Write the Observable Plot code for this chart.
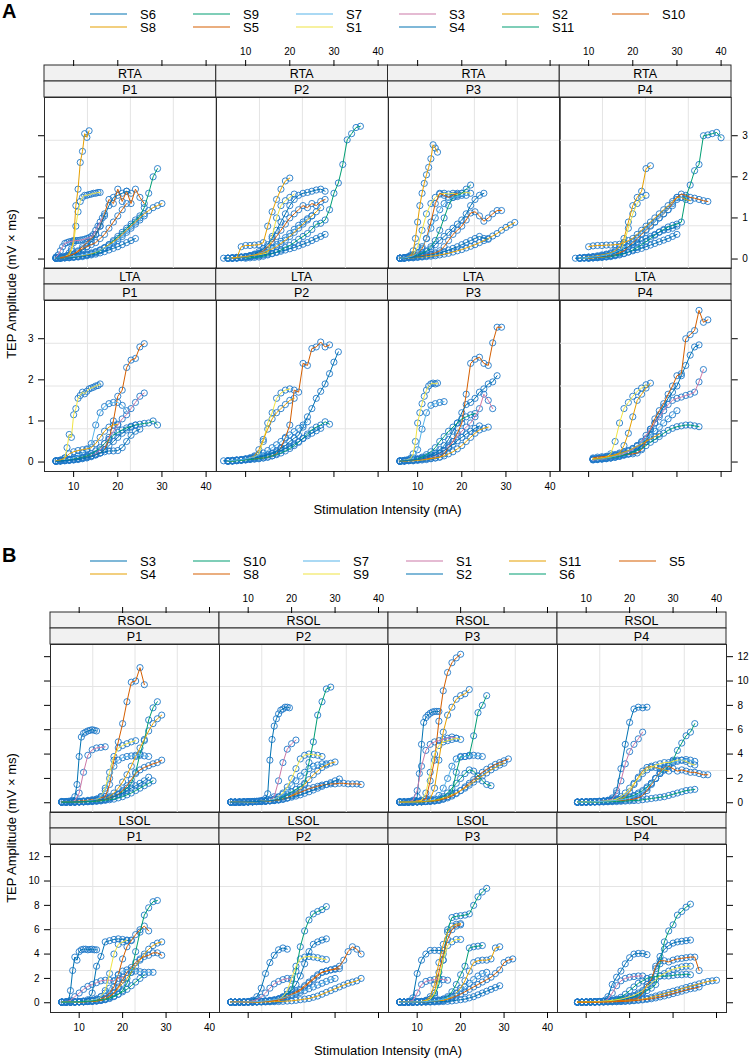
<!DOCTYPE html>
<html><head><meta charset="utf-8">
<script src="https://cdn.jsdelivr.net/npm/d3@7"></script>
<script src="https://cdn.jsdelivr.net/npm/@observablehq/plot@0.6"></script>
<style>
body{margin:0;background:#fff;}
#root{position:relative;width:750px;height:1058px;overflow:hidden;font-family:"Liberation Sans",Arial,sans-serif;color:#000;background:#fff;}
</style></head><body><div id="root"></div>
<script>
const PALETTE = ["#0072B2","#E69F00","#009E73","#D55E00","#56B4E9","#F0E442","#CC79A7"];
const LEGEND_A = ["S6","S8","S9","S5","S7","S1","S3","S4","S2","S11","S10"];
const LEGEND_B = ["S3","S4","S10","S8","S7","S9","S1","S2","S11","S6","S5"];
const PHASES = ["P1","P2","P3","P4"];
const MUSCLES_A = ["RTA","LTA"];
const MUSCLES_B = ["RSOL","LSOL"];
const X_TICKS = [10,20,30,40];
const Y_TICKS_A = [0,1,2,3];
const Y_TICKS_B = [0,2,4,6,8,10,12];
const X_TITLE = "Stimulation Intensity (mA)";
const Y_TITLE = "TEP Amplitude (mV \u00d7 ms)";

// each series: [subject, first intensity (mA), intensity step (mA), amplitudes]
const A_RTA_P1 = [
 ["S8",6,0.5,[0.02,0.02,0.03,0.03,0.05,0.08,0.15,0.25,0.45,1.3,1.7,2.35,2.62,3.05,2.96,3.12]],
 ["S1",6,0.5,[0.03,0.03,0.04,0.05,0.06,0.08,0.1,0.2,0.4,0.8,1.15,1.4,1.5,1.55,1.55,1.57,1.58,1.6,1.6,1.62,1.62]],
 ["S5",6,1,[0.02,0.03,0.05,0.08,0.12,0.2,0.3,0.4,0.5,0.6,0.8,1.1,1.45,1.35,1.7,1.4,1.65,1.35,1.7,1.5,1.35]],
 ["S9",6,1,[0.02,0.02,0.03,0.04,0.05,0.06,0.08,0.1,0.12,0.15,0.2,0.27,0.35,0.45,0.55,0.65,0.75,0.85,0.95,1.05,1.25,1.6,2.0,2.2]],
 ["S2",6,1,[0.02,0.02,0.03,0.04,0.05,0.06,0.08,0.1,0.13,0.17,0.22,0.28,0.35,0.42,0.5,0.6,0.7,0.8,0.9,1.0,1.1,1.18,1.25,1.3,1.35]],
 ["S6",6,1,[0.03,0.04,0.05,0.07,0.1,0.15,0.22,0.3,0.42,0.6,0.8,1.05,1.3,1.5,1.55,1.6,1.65,1.6]],
 ["S7",6,1,[0.02,0.03,0.04,0.05,0.06,0.08,0.1,0.12,0.15,0.18,0.22,0.27,0.32,0.38,0.45,0.55,0.65,0.75,0.85,0.95,1.05]],
 ["S3",6,0.5,[0.05,0.1,0.2,0.3,0.38,0.4,0.42,0.43,0.44,0.45,0.45,0.46,0.47,0.48,0.5,0.52,0.55,0.6,0.7,0.8,0.9,1.0]],
 ["S4",6,1,[0.02,0.02,0.03,0.03,0.04,0.05,0.06,0.08,0.1,0.12,0.15,0.18,0.22,0.26,0.3,0.35,0.4,0.45,0.5]],
 ["S10",7,1,[0.03,0.05,0.08,0.12,0.18,0.25,0.3,0.35,0.4,0.5,0.6,0.75,0.9,1.05,1.2,1.35]]
];
const A_RTA_P2 = [
 ["S9",10,1,[0.02,0.03,0.04,0.05,0.07,0.1,0.13,0.17,0.22,0.28,0.33,0.4,0.48,0.55,0.62,0.72,0.85,0.87,0.95,1.2,1.6,1.85,2.3,2.9,3.05,3.2,3.23]],
 ["S8",6,1,[0.02,0.02,0.03,0.3,0.33,0.33,0.34,0.35,0.4,0.8,1.15,1.45,1.7,1.9,1.97]],
 ["S1",6,1,[0.02,0.02,0.03,0.04,0.05,0.06,0.08,0.1,0.12,0.15,0.55,1.0,1.3,1.42,1.5,1.58]],
 ["S5",6,1,[0.02,0.02,0.03,0.04,0.05,0.07,0.1,0.14,0.2,0.3,0.4,0.55,0.7,0.85,1.0,1.1,1.2,1.3,1.25,1.35,1.3,1.4,1.45]],
 ["S6",8,1,[0.02,0.03,0.05,0.08,0.12,0.18,0.25,0.35,0.5,0.7,0.9,1.1,1.3,1.45,1.55,1.6,1.62,1.65,1.68,1.7,1.65]],
 ["S4",5,1,[0.02,0.02,0.03,0.03,0.04,0.05,0.06,0.07,0.08,0.1,0.12,0.14,0.16,0.19,0.22,0.25,0.28,0.32,0.36,0.4,0.45,0.5,0.55,0.6]],
 ["S7",6,1,[0.02,0.03,0.04,0.05,0.06,0.08,0.1,0.13,0.17,0.22,0.28,0.35,0.43,0.52,0.62,0.72,0.82,0.9,0.98,1.05]],
 ["S2",7,1,[0.03,0.04,0.05,0.06,0.08,0.1,0.12,0.15,0.2,0.25,0.3,0.38,0.46,0.55,0.65,0.75,0.85,0.95,1.05,1.15,1.25]]
];
const A_RTA_P3 = [
 ["S8",6,0.5,[0.02,0.02,0.03,0.04,0.06,0.1,0.2,0.5,0.9,1.3,1.6,1.84,2.05,2.23,2.44,2.78,2.7,2.6]],
 ["S1",6,1,[0.02,0.03,0.05,0.1,0.3,0.7,1.1,1.35,1.5,1.58,1.6,1.58,1.6,1.57,1.6,1.62,1.6]],
 ["S11",6,1,[0.02,0.03,0.04,0.06,0.1,0.15,0.2,0.3,0.45,0.7,1.0,1.3,1.5,1.55,1.6,1.7,1.8]],
 ["S10",6,1,[0.02,0.03,0.05,0.1,0.15,0.25,0.5,0.9,1.35,1.6,1.55,1.5,1.55,1.6]],
 ["S5",6,1,[0.02,0.03,0.04,0.05,0.06,0.08,0.1,0.12,0.15,0.2,0.3,0.45,0.6,0.7,0.8,0.95,1.12,1.15,1.05,0.92,1.0,1.1,1.18,1.18]],
 ["S2",6,1,[0.02,0.02,0.03,0.03,0.04,0.05,0.06,0.07,0.08,0.1,0.12,0.14,0.17,0.2,0.23,0.27,0.31,0.35,0.4,0.45,0.5,0.56,0.62,0.7,0.77,0.83,0.89]],
 ["S6",6,1,[0.02,0.02,0.03,0.04,0.05,0.06,0.08,0.1,0.12,0.15,0.18,0.22,0.26,0.3,0.35,0.4,0.45,0.5,0.55,0.5,0.48]],
 ["S4",6,1,[0.02,0.03,0.04,0.06,0.08,0.12,0.18,0.25,0.35,0.45,0.55,0.65,0.75,0.85,0.95,1.1,1.3,1.45,1.55,1.6]],
 ["S7",6,1,[0.02,0.03,0.05,0.08,0.15,0.3,0.5,0.75,1.0,1.2,1.35,1.45,1.5,1.52,1.55,1.55]]
];
const A_RTA_P4 = [
 ["S11",10,1,[0.02,0.03,0.03,0.04,0.05,0.06,0.08,0.1,0.13,0.17,0.22,0.28,0.35,0.42,0.5,0.58,0.66,0.72,0.78,0.82,0.85,0.9,1.5,1.8,2.15,2.3,3.0,3.02,3.05,3.08,2.95]],
 ["S8",8,1,[0.03,0.04,0.05,0.06,0.08,0.1,0.12,0.15,0.2,0.3,0.5,0.9,1.3,1.5,1.65,2.2,2.27]],
 ["S1",8,1,[0.02,0.02,0.03,0.03,0.04,0.05,0.06,0.08,0.1,0.15,0.4,0.75,1.1,1.35,1.5,1.55]],
 ["S2",10,1,[0.3,0.32,0.33,0.33,0.34,0.34,0.35,0.36,0.4,0.45,0.5,0.6,0.7,0.8,0.9,1.0,1.1,1.2,1.3,1.4,1.5,1.5,1.45,1.42]],
 ["S10",10,1,[0.02,0.03,0.04,0.05,0.06,0.08,0.1,0.15,0.2,0.3,0.4,0.5,0.6,0.7,0.8,0.9,1.0,1.1,1.2,1.35,1.5,1.58,1.55,1.5,1.48,1.45,1.42,1.4]],
 ["S6",8,1,[0.02,0.03,0.04,0.05,0.06,0.08,0.1,0.12,0.15,0.2,0.25,0.3,0.35,0.4,0.45,0.5,0.55,0.6,0.65,0.7,0.72,0.75,0.8]],
 ["S4",7,1,[0.02,0.02,0.03,0.03,0.04,0.05,0.06,0.07,0.08,0.1,0.12,0.14,0.17,0.2,0.23,0.26,0.3,0.34,0.38,0.42,0.46,0.5,0.55,0.6]],
 ["S7",8,1,[0.02,0.03,0.04,0.05,0.06,0.08,0.1,0.13,0.17,0.22,0.28,0.35,0.43,0.52,0.62,0.72,0.82,0.9,1.0,1.1,1.2,1.3,1.45,1.5]]
];
const A_LTA_P1 = [
 ["S1",6,0.5,[0.03,0.03,0.04,0.05,0.1,0.35,0.67,0.6,1.15,1.3,1.55,1.62,1.7,1.66,1.72,1.78,1.8,1.82,1.85,1.86,1.9]],
 ["S5",6,1,[0.02,0.03,0.04,0.05,0.07,0.09,0.11,0.13,0.15,0.18,0.22,0.3,0.55,1.0,1.6,1.75,2.3,2.48,2.52,2.8,2.88]],
 ["S7",6,1,[0.03,0.04,0.05,0.07,0.1,0.15,0.22,0.3,0.45,0.9,1.2,1.35,1.42,1.45,1.45,1.38,1.25]],
 ["S3",6,1,[0.02,0.03,0.04,0.05,0.06,0.08,0.1,0.12,0.15,0.2,0.3,0.45,0.6,0.75,0.9,1.05,1.15,1.3,1.45,1.6,1.68]],
 ["S9",6,1,[0.02,0.03,0.04,0.05,0.07,0.09,0.12,0.15,0.2,0.27,0.35,0.45,0.55,0.65,0.72,0.78,0.83,0.87,0.9,0.92,0.94,0.95,1.0,0.9]],
 ["S4",6,1,[0.02,0.03,0.04,0.05,0.06,0.08,0.1,0.12,0.15,0.18,0.22,0.25,0.27,0.27,0.28,0.35,0.5,0.65,0.75,0.8]],
 ["S8",6,1,[0.03,0.05,0.1,0.2,0.25,0.28,0.3,0.32,0.35,0.45,0.6,0.75,0.85,0.9,0.92]],
 ["S6",6,1,[0.02,0.02,0.03,0.04,0.05,0.06,0.08,0.1,0.13,0.17,0.22,0.3,0.4,0.5,0.6,0.7,0.78,0.85,0.9]]
];
const A_LTA_P2 = [
 ["S5",6,1,[0.03,0.03,0.04,0.05,0.06,0.07,0.08,0.09,0.1,0.12,0.15,0.2,0.35,0.6,0.9,1.75,1.7,2.4,2.35,2.76,2.8,2.92,2.8,2.85]],
 ["S6",6,1,[0.02,0.03,0.04,0.05,0.06,0.08,0.1,0.12,0.15,0.18,0.22,0.27,0.33,0.4,0.5,0.58,0.65,0.85,1.1,1.3,1.55,1.72,1.9,2.15,2.43,2.68]],
 ["S1",6,1,[0.03,0.03,0.04,0.05,0.06,0.08,0.12,0.2,0.5,0.95,1.2,1.55,1.68,1.75,1.78]],
 ["S8",6,1,[0.02,0.03,0.04,0.05,0.07,0.1,0.15,0.3,0.55,0.8,1.05,1.2,1.3,1.4,1.5,1.55]],
 ["S9",6,1,[0.02,0.02,0.03,0.04,0.05,0.06,0.07,0.08,0.1,0.12,0.15,0.18,0.22,0.27,0.33,0.4,0.48,0.58,0.68,0.78,0.85,0.9,0.98,0.92]],
 ["S4",5,1,[0.03,0.03,0.04,0.05,0.06,0.07,0.08,0.1,0.12,0.14,0.17,0.2,0.24,0.28,0.33,0.38,0.44,0.5,0.57,0.64,0.7,0.76,0.82]],
 ["S7",6,1,[0.03,0.04,0.05,0.06,0.08,0.1,0.13,0.17,0.22,0.28,0.35,0.42,0.5,0.58,0.66,0.74,0.82,0.9,0.98]]
];
const A_LTA_P3 = [
 ["S5",6,1,[0.02,0.03,0.04,0.05,0.06,0.07,0.08,0.09,0.1,0.12,0.2,0.35,0.5,0.7,0.95,1.65,2.4,2.5,2.55,2.4,2.35,2.9,3.28,3.28]],
 ["S1",6,0.5,[0.03,0.03,0.04,0.05,0.06,0.1,0.2,0.5,0.95,1.2,1.42,1.6,1.75,1.85,1.9,1.92,1.9,1.92]],
 ["S7",6,1,[0.03,0.04,0.05,0.1,0.3,0.8,1.2,1.38,1.42,1.45,1.47]],
 ["S6",6,1,[0.02,0.03,0.04,0.05,0.07,0.1,0.13,0.17,0.22,0.3,0.4,0.55,0.75,0.95,1.2,1.4,1.45,1.55,1.7,1.78,1.9,1.95,2.1]],
 ["S3",6,1,[0.02,0.03,0.04,0.05,0.06,0.08,0.1,0.12,0.15,0.2,0.28,0.38,0.5,0.62,0.75,0.85,0.95,1.1,1.3,1.65,1.5,1.3]],
 ["S9",6,1,[0.02,0.03,0.04,0.05,0.08,0.12,0.18,0.25,0.35,0.5,0.62,0.75,0.85,0.95,1.05,1.1,1.15,1.18]],
 ["S2",6,1,[0.02,0.02,0.03,0.03,0.04,0.05,0.06,0.08,0.1,0.12,0.15,0.2,0.25,0.32,0.4,0.5,0.6,0.7,0.78,0.82,0.85]],
 ["S4",6,1,[0.02,0.03,0.04,0.05,0.06,0.08,0.1,0.13,0.17,0.22,0.28,0.35,0.43,0.52,0.6,0.68,0.75,0.82,0.88]]
];
const A_LTA_P4 = [
 ["S5",11,1,[0.1,0.12,0.13,0.14,0.15,0.16,0.17,0.18,0.19,0.2,0.22,0.3,0.5,0.8,1.05,1.25,1.42,1.65,1.85,2.1,2.15,3.0,3.1,3.2,3.69,3.4,3.46]],
 ["S1",11,1,[0.08,0.09,0.1,0.12,0.2,0.5,0.95,1.3,1.45,1.6,1.72,1.8,1.88]],
 ["S8",11,1,[0.07,0.08,0.1,0.12,0.15,0.18,0.22,0.4,0.7,1.1,1.5,1.65,1.8,1.92]],
 ["S6",11,1,[0.06,0.07,0.08,0.09,0.1,0.12,0.14,0.17,0.2,0.25,0.3,0.4,0.55,0.75,0.95,1.15,1.35,1.55,1.7,1.85,2.1,2.35,2.6,2.8,2.85]],
 ["S3",11,1,[0.05,0.06,0.07,0.08,0.1,0.12,0.15,0.2,0.25,0.3,0.4,0.5,0.65,0.8,0.95,1.1,1.25,1.4,1.5,1.55,1.58,1.62,1.65,1.7,1.95,2.25]],
 ["S9",11,1,[0.06,0.07,0.08,0.09,0.1,0.12,0.14,0.17,0.2,0.24,0.28,0.33,0.4,0.48,0.55,0.62,0.7,0.77,0.82,0.86,0.88,0.9,0.9,0.88,0.86]],
 ["S7",11,1,[0.06,0.07,0.08,0.1,0.12,0.15,0.18,0.22,0.27,0.33,0.4,0.48,0.57,0.66,0.75,0.85,0.95,1.05,1.15,1.25]],
 ["S2",11,1,[0.07,0.08,0.1,0.12,0.14,0.17,0.2,0.24,0.28,0.33,0.38,0.44,0.5,0.56,0.62,0.68]]
];

const B_RSOL_P1 = [
 ["S8",6,1,[0.1,0.1,0.1,0.12,0.14,0.16,0.2,0.25,0.3,0.4,0.5,1.5,3.5,5.0,6.5,8.3,9.9,10.0,11.1,9.7]],
 ["S3",6,0.5,[0.1,0.1,0.1,0.12,0.15,0.2,0.5,1.5,3.8,5.4,5.7,5.8,5.9,5.95,6.0,5.95,5.9]],
 ["S1",6,1,[0.05,0.08,0.1,0.15,0.8,2.5,3.9,4.35,4.5,4.55,4.6]],
 ["S9",6,1,[0.05,0.05,0.05,0.06,0.08,0.1,0.12,0.15,0.2,0.5,1.2,2.5,3.8,4.5,4.7,4.85,5.0,5.1]],
 ["S10",6,1,[0.05,0.05,0.05,0.06,0.08,0.1,0.12,0.15,0.2,0.25,0.3,0.4,0.5,0.7,0.9,1.2,1.6,2.5,4.0,5.1,6.8,7.8,8.3]],
 ["S4",6,1,[0.05,0.05,0.05,0.06,0.08,0.1,0.12,0.15,0.18,0.22,0.3,0.5,0.8,1.2,1.7,2.3,3.0,3.8,4.5,5.2,5.9,6.5,6.9,7.2]],
 ["S7",6,1,[0.05,0.05,0.05,0.06,0.08,0.1,0.15,0.2,0.3,0.5,1.0,2.0,3.0,3.5,3.7,3.8,3.85,3.9,3.9,3.85,3.8]],
 ["S5",6,1,[0.05,0.05,0.05,0.06,0.07,0.08,0.1,0.12,0.15,0.2,0.25,0.35,0.5,0.7,1.0,1.4,1.9,2.4,2.7,2.9,3.05,3.2,3.3,3.5]],
 ["S2",6,1,[0.05,0.05,0.06,0.07,0.08,0.1,0.12,0.15,0.2,0.25,0.3,0.4,0.5,0.65,0.8,1.0,1.2,1.4,1.6,1.8,2.1]],
 ["S6",6,1,[0.05,0.05,0.05,0.06,0.06,0.07,0.08,0.1,0.12,0.15,0.2,0.25,0.3,0.4,0.5,0.65,0.8,1.0,1.2,1.4,1.6,1.8]]
];
const B_RSOL_P2 = [
 ["S3",6,0.5,[0.05,0.05,0.05,0.05,0.05,0.06,0.06,0.08,0.08,0.1,0.1,0.12,0.12,0.15,0.17,0.2,0.35,0.74,3.5,5.2,6.3,6.9,7.3,7.6,7.7,7.85,7.85,7.8]],
 ["S1",6,1,[0.05,0.05,0.05,0.06,0.07,0.08,0.1,0.12,0.15,0.2,0.5,1.8,3.3,4.4,4.85,5.15]],
 ["S10",6,1,[0.05,0.05,0.05,0.06,0.07,0.08,0.1,0.12,0.15,0.18,0.22,0.3,0.45,0.65,0.9,1.1,1.3,1.6,3.3,5.0,7.2,8.3,9.35,9.5]],
 ["S9",6,1,[0.05,0.05,0.05,0.06,0.07,0.08,0.1,0.12,0.15,0.2,0.3,0.5,0.8,1.3,2.0,2.8,3.6,3.9,4.0,3.95,3.9,3.8]],
 ["S4",6,1,[0.05,0.05,0.05,0.06,0.07,0.08,0.09,0.1,0.12,0.15,0.18,0.22,0.3,0.4,0.6,0.8,1.1,1.5,1.9,2.3,2.6,2.9,3.1,3.25,3.35]],
 ["S8",6,1,[0.05,0.05,0.06,0.07,0.08,0.09,0.1,0.12,0.14,0.16,0.2,0.25,0.3,0.4,0.55,0.7,0.85,1.0,1.15,1.25,1.35,1.45,1.5,1.55,1.55,1.6,1.6,1.55,1.55,1.55,1.5]],
 ["S7",6,1,[0.05,0.05,0.05,0.06,0.07,0.08,0.1,0.12,0.15,0.2,0.3,0.45,0.7,1.0,1.4,1.8,2.2,2.5,2.8,3.0,3.1,3.2,3.2]],
 ["S2",6,1,[0.05,0.05,0.06,0.07,0.08,0.09,0.1,0.12,0.14,0.17,0.2,0.25,0.3,0.38,0.46,0.55,0.65,0.78,0.9,1.05,1.2,1.35,1.5,1.65,1.8,1.95]]
];
const B_RSOL_P3 = [
 ["S8",6,1,[0.1,0.1,0.1,0.12,0.15,0.2,0.3,1.8,3.5,6.7,9.2,10.7,11.5,11.9,12.2]],
 ["S3",6,0.5,[0.05,0.05,0.05,0.06,0.08,0.1,0.12,0.2,0.5,2.4,4.8,6.6,7.0,7.2,7.35,7.45,7.5,7.5,7.5]],
 ["S11",6,1,[0.05,0.05,0.05,0.06,0.07,0.08,0.1,0.3,1.2,3.5,5.8,7.2,7.85,8.5,8.8,8.95,9.3]],
 ["S1",6,1,[0.05,0.05,0.08,0.2,1.0,3.0,4.3,4.8,5.0,5.1,5.2,5.3,5.4,5.3]],
 ["S9",6,1,[0.05,0.05,0.05,0.06,0.1,0.2,0.8,2.5,4.0,4.7,5.0,5.1,5.2,5.3,5.2]],
 ["S10",6,1,[0.05,0.05,0.05,0.06,0.07,0.08,0.1,0.12,0.15,0.2,0.3,0.5,0.8,2.5,3.8,3.8,3.9,5.5,7.4,8.0,8.8]],
 ["S5",6,1,[0.05,0.05,0.05,0.06,0.07,0.08,0.1,0.12,0.15,0.2,0.3,0.4,0.55,0.75,1.0,1.3,1.6,1.9,2.2,2.5,2.75,2.95,3.15,3.3,3.45,3.6]],
 ["S6",6,1,[0.05,0.05,0.05,0.06,0.07,0.08,0.1,0.15,0.2,0.3,0.5,0.8,1.2,1.6,2.0,2.4,2.7,2.6,2.2,1.8,1.5,1.4]],
 ["S7",6,1,[0.05,0.05,0.05,0.06,0.08,0.1,0.15,0.2,0.3,0.6,1.2,2.0,3.0,3.6,3.75,3.8,3.85,3.9,3.85,3.8]],
 ["S4",6,1,[0.05,0.05,0.06,0.07,0.08,0.1,0.12,0.15,0.2,0.28,0.38,0.5,0.65,0.8,1.0,1.2,1.45,1.7,1.95,2.2,2.45,2.7,2.9,3.1,3.25]]
];
const B_RSOL_P4 = [
 ["S3",8,1,[0.05,0.06,0.07,0.08,0.1,0.12,0.15,0.2,0.4,1.0,2.8,4.8,6.6,7.7,7.85,7.8,7.85]],
 ["S1",8,1,[0.05,0.06,0.07,0.08,0.1,0.12,0.15,0.2,0.3,0.8,1.8,3.2,4.2,4.8,5.25,5.8]],
 ["S10",8,1,[0.05,0.06,0.07,0.08,0.09,0.1,0.12,0.15,0.2,0.25,0.3,0.4,0.5,0.6,0.8,1.0,1.3,1.6,2.0,2.4,2.7,3.0,3.5,4.3,4.9,5.5,5.8,6.5]],
 ["S8",8,1,[0.05,0.06,0.07,0.08,0.09,0.1,0.11,0.12,0.14,0.16,0.18,0.2,0.25,0.3,0.4,0.6,1.0,1.5,2.0,2.5,2.9,3.0,2.8,2.6,2.7,2.6,2.5,2.5,2.4,2.3,2.3]],
 ["S4",8,1,[0.05,0.05,0.06,0.07,0.08,0.09,0.1,0.12,0.15,0.2,0.3,0.5,0.9,1.5,2.1,2.6,2.9,3.0,2.9,2.8,2.7,2.6]],
 ["S9",8,1,[0.05,0.05,0.06,0.07,0.08,0.1,0.12,0.15,0.2,0.3,0.5,0.8,1.2,1.6,2.0,2.4,2.7,2.9,3.1,3.2,3.3,3.3,3.4,3.5,3.5,3.4,3.2,3.1]],
 ["S6",8,1,[0.05,0.05,0.05,0.05,0.06,0.06,0.07,0.08,0.09,0.1,0.12,0.14,0.16,0.18,0.2,0.25,0.3,0.35,0.4,0.45,0.5,0.6,0.7,0.8,0.9,1.0,1.05,1.1]],
 ["S7",8,1,[0.05,0.05,0.06,0.07,0.08,0.1,0.12,0.14,0.17,0.2,0.25,0.3,0.4,0.5,0.7,0.9,1.2,1.6,2.0,2.4,2.8,3.1,3.3,3.4,3.5,3.55,3.5,3.4]]
];
const B_LSOL_P1 = [
 ["S3",6,0.5,[0.05,0.05,0.08,0.1,1.0,2.65,3.75,3.5,4.2,4.35,4.4,4.4,4.35,4.38,4.4,4.35,4.35]],
 ["S1",6,1,[0.05,0.08,0.2,0.5,0.8,1.1,1.35,1.5,1.65,1.8,1.85,1.85,1.8,2.0,2.1]],
 ["S2",6,1,[0.05,0.05,0.06,0.08,0.1,0.15,0.25,0.8,3.0,3.8,5.0,5.1,5.2,5.25,5.2,5.1,5.15]],
 ["S9",6,1,[0.05,0.05,0.05,0.06,0.08,0.1,0.15,0.2,0.3,0.5,1.0,2.4,4.0,4.8,5.0,5.15]],
 ["S8",6,1,[0.05,0.05,0.05,0.06,0.08,0.1,0.12,0.15,0.2,0.3,0.5,0.8,1.3,2.3,3.6,4.6,5.1,5.6,6.0,6.3,5.9]],
 ["S10",6,1,[0.05,0.05,0.05,0.06,0.07,0.08,0.1,0.12,0.15,0.2,0.25,0.35,0.5,0.7,1.0,1.6,2.5,4.2,5.8,7.2,7.8,8.3,8.4]],
 ["S4",6,1,[0.05,0.05,0.05,0.06,0.07,0.08,0.1,0.12,0.15,0.2,0.3,0.5,0.8,1.2,1.6,2.0,2.5,3.0,3.5,4.0,4.4,4.7,4.9,5.0]],
 ["S5",6,1,[0.05,0.05,0.05,0.06,0.07,0.08,0.1,0.12,0.15,0.2,0.3,0.5,0.8,1.3,1.9,2.5,2.9,3.3,3.6,3.8,3.9,4.1,4.1,3.9]],
 ["S7",6,1,[0.05,0.05,0.05,0.06,0.08,0.1,0.15,0.2,0.3,0.5,0.8,1.2,1.8,2.3,2.6,2.7,2.7,2.6,2.55,2.5,2.5,2.5]],
 ["S6",6,1,[0.05,0.05,0.06,0.07,0.08,0.1,0.12,0.15,0.2,0.25,0.3,0.4,0.55,0.7,0.9,1.1,1.4,1.7,2.0,2.3]]
];
const B_LSOL_P2 = [
 ["S10",6,1,[0.05,0.05,0.05,0.05,0.06,0.07,0.08,0.1,0.12,0.15,0.2,0.3,0.45,0.7,1.1,2.6,4.6,5.9,6.8,7.3,7.5,7.65,7.9]],
 ["S3",6,1,[0.05,0.05,0.06,0.08,0.1,0.2,0.5,1.2,2.4,3.3,3.9,4.35,4.5,4.4]],
 ["S1",6,1,[0.05,0.05,0.06,0.08,0.1,0.15,0.25,0.45,0.8,1.2,1.55,1.75,1.9,2.0,1.85]],
 ["S2",6,1,[0.05,0.05,0.05,0.05,0.06,0.07,0.08,0.1,0.12,0.15,0.2,0.3,0.45,0.7,1.0,1.5,2.2,3.2,4.2,4.8,5.0,5.15,5.25]],
 ["S9",6,1,[0.05,0.05,0.05,0.05,0.06,0.07,0.08,0.1,0.12,0.15,0.2,0.3,0.5,1.0,2.0,3.0,3.6,3.75,3.8,3.75,3.7,3.6,3.55]],
 ["S8",6,1,[0.05,0.05,0.05,0.05,0.06,0.07,0.08,0.09,0.1,0.12,0.15,0.2,0.3,0.45,0.6,0.8,1.0,1.3,1.6,1.9,2.2,2.5,2.6,2.7,2.8,3.0,3.5,4.2,4.6,4.4,4.0]],
 ["S4",6,1,[0.05,0.05,0.05,0.05,0.05,0.05,0.06,0.06,0.07,0.08,0.09,0.1,0.12,0.14,0.16,0.2,0.25,0.3,0.35,0.45,0.55,0.7,0.85,1.0,1.15,1.3,1.45,1.6,1.7,1.8,2.0]],
 ["S5",6,1,[0.05,0.05,0.05,0.05,0.06,0.07,0.08,0.1,0.12,0.15,0.2,0.3,0.4,0.55,0.7,0.9,1.1,1.4,1.7,2.0,2.3,2.5,2.6,2.7,2.75,2.8]],
 ["S7",6,1,[0.05,0.05,0.05,0.06,0.07,0.08,0.1,0.12,0.15,0.2,0.25,0.32,0.4,0.5,0.6,0.72,0.85,1.0,1.15,1.3,1.45,1.6,1.75,1.9,2.0]]
];
const B_LSOL_P3 = [
 ["S6",6,1,[0.05,0.05,0.05,0.06,0.08,0.1,0.15,0.3,0.6,1.5,3.5,6.0,7.0,7.1,7.15,7.2,7.3,8.0,8.7,9.1,9.4]],
 ["S11",6,1,[0.05,0.05,0.05,0.06,0.08,0.1,0.2,0.5,1.5,3.3,4.8,5.8,6.3,6.45,6.5]],
 ["S5",6,1,[0.05,0.05,0.05,0.06,0.07,0.1,0.15,0.3,0.8,2.5,4.0,5.2,6.0,6.3,6.4]],
 ["S10",6,1,[0.05,0.05,0.05,0.06,0.07,0.08,0.1,0.12,0.15,0.2,0.3,0.5,0.9,1.5,2.3,3.0,4.5,4.6,4.65,4.7]],
 ["S3",6,1,[0.05,0.05,0.1,0.4,2.4,3.5,4.0,4.3,4.3,4.3,4.3]],
 ["S1",6,1,[0.05,0.05,0.1,0.2,0.8,1.5,1.75,1.85,1.9,1.95,1.9,1.85]],
 ["S9",6,1,[0.05,0.05,0.05,0.06,0.08,0.1,0.15,0.3,0.8,2.0,3.5,4.7,5.0,5.2,5.2]],
 ["S8",6,1,[0.05,0.05,0.05,0.05,0.06,0.07,0.08,0.1,0.12,0.15,0.2,0.3,0.4,0.55,0.7,0.9,1.1,1.3,1.5,1.7,1.9,2.1,2.4,2.7,3.3,3.5,3.6]],
 ["S4",6,1,[0.05,0.05,0.05,0.05,0.06,0.07,0.08,0.1,0.12,0.15,0.2,0.3,0.5,0.8,1.2,1.8,2.6,3.3,3.45,3.5,3.5,3.6,4.5,4.6]],
 ["S2",6,1,[0.05,0.05,0.05,0.05,0.05,0.05,0.06,0.06,0.07,0.08,0.1,0.12,0.15,0.2,0.25,0.3,0.4,0.5,0.65,0.8,0.95,1.1,1.25,1.4]],
 ["S7",6,1,[0.05,0.05,0.05,0.06,0.07,0.08,0.1,0.13,0.17,0.22,0.3,0.4,0.55,0.75,1.0,1.3,1.6,1.9,2.2,2.4,2.5]]
];
const B_LSOL_P4 = [
 ["S6",8,1,[0.05,0.05,0.06,0.07,0.08,0.09,0.1,0.12,0.15,0.2,0.25,0.3,0.4,0.5,0.6,0.8,1.0,1.2,1.5,3.2,5.0,5.9,6.4,7.2,7.5,7.85,8.1]],
 ["S3",8,1,[0.05,0.05,0.06,0.07,0.08,0.1,0.15,0.5,1.5,2.1,2.6,3.2,3.7,4.0,4.05,4.05,3.95]],
 ["S1",8,1,[0.05,0.05,0.06,0.07,0.08,0.1,0.12,0.3,0.8,1.4,1.8,2.0,2.1,2.15,2.2,2.2]],
 ["S2",8,1,[0.05,0.05,0.06,0.07,0.08,0.09,0.1,0.12,0.15,0.2,0.25,0.3,0.4,0.5,0.7,0.9,1.3,1.8,2.8,3.8,4.4,4.7,4.9,5.0,5.05,5.1,5.15]],
 ["S8",8,1,[0.05,0.05,0.06,0.07,0.08,0.09,0.1,0.12,0.14,0.16,0.18,0.2,0.25,0.3,0.4,0.8,1.5,1.9,3.0,3.45,3.45,3.35,3.5,3.6,3.65,3.7,3.75,3.75,2.65]],
 ["S10",8,1,[0.05,0.05,0.06,0.07,0.08,0.1,0.12,0.15,0.2,0.3,0.45,0.7,1.0,1.3,1.6,1.8,2.0,2.1,2.15,2.2,2.2,2.2,2.25,2.3,2.3,2.35,2.3]],
 ["S4",8,1,[0.05,0.05,0.05,0.05,0.06,0.06,0.07,0.08,0.09,0.1,0.12,0.14,0.17,0.2,0.25,0.3,0.35,0.45,0.55,0.65,0.75,0.85,0.95,1.05,1.15,1.25,1.35,1.45,1.55,1.65,1.75,1.8,1.85]],
 ["S9",8,1,[0.05,0.05,0.06,0.07,0.08,0.1,0.12,0.15,0.2,0.25,0.3,0.4,0.5,0.6,0.8,1.0,1.3,1.6,1.9,2.2,2.4,2.6,2.75,2.85,2.95,3.0,3.0]],
 ["S5",8,1,[0.05,0.05,0.05,0.05,0.05,0.06,0.06,0.07,0.08,0.09,0.1,0.12,0.14,0.17,0.2,0.24,0.28,0.33,0.4,0.48,0.56,0.65,0.75,0.85,0.95,1.05,1.15,1.2,1.3]]
];

// ---------- layout ----------
const X_DOMAIN = [3.4, 42.3];
const DOT_COLOR = "#1f78c8";
const GRID_COLOR = "#e4e4e4";
const FRAME_COLOR = "#2a2a2a";
const FONT = "'Liberation Sans', Arial, Helvetica, sans-serif";

const FIGS = [
 {label:"A", labelY:18.3, legend:LEGEND_A, legendX:[90,193,296,399,502,612], legendY:[14,27],
  muscles:MUSCLES_A, panels:[[A_RTA_P1,A_RTA_P2,A_RTA_P3,A_RTA_P4],[A_LTA_P1,A_LTA_P2,A_LTA_P3,A_LTA_P4]],
  left:44, pw:171.75, rowsY:[97,300], ph:171, stripH:16, yDomain:[-0.23,3.93], yTicks:Y_TICKS_A, xTitleY:514, yTitleY:284},
 {label:"B", labelY:561.7, legend:LEGEND_B, legendX:[90,193,303,406,509,619], legendY:[561,574],
  muscles:MUSCLES_B, panels:[[B_RSOL_P1,B_RSOL_P2,B_RSOL_P3,B_RSOL_P4],[B_LSOL_P1,B_LSOL_P2,B_LSOL_P3,B_LSOL_P4]],
  left:50, pw:169, rowsY:[644,844], ph:168, stripH:16, yDomain:[-0.8,13.0], yTicks:Y_TICKS_B, xTitleY:1055, yTitleY:828}
];

const root = document.getElementById("root");
const overlay = d3.select(root).append("svg")
  .attr("width",750).attr("height",1058)
  .style("position","absolute").style("left","0px").style("top","0px")
  .style("font-family",FONT);

const ML = 34, MR = 34, MT = 2, MB = 30;
const noLabel = () => "";
const withLabel = d => String(d);

function place(node, left, top){
  node.style.position = "absolute";
  node.style.left = left + "px";
  node.style.top = top + "px";
  root.appendChild(node);
}

function drawFigure(fig){
  const colorOf = s => PALETTE[fig.legend.indexOf(s) % PALETTE.length];
  const g = overlay.append("g");
  g.append("text").attr("x",2).attr("y",fig.labelY).attr("font-size",20).attr("font-weight","bold").text(fig.label);
  fig.legend.forEach((s,i)=>{
    const col = Math.floor(i/2), row = i%2;
    const x = fig.legendX[col], y = fig.legendY[row];
    g.append("line").attr("x1",x).attr("x2",x+37).attr("y1",y).attr("y2",y)
      .attr("stroke",colorOf(s)).attr("stroke-width",1.2);
    g.append("text").attr("x",x+50).attr("y",y+4.7).attr("font-size",13).text(s);
  });
  fig.rowsY.forEach((ry,r)=>{
    PHASES.forEach((p,c)=>{
      const x = fig.left + c*fig.pw;
      [fig.muscles[r], p].forEach((lab,k)=>{
        const y = ry - 2*fig.stripH + k*fig.stripH;
        g.append("rect").attr("x",x).attr("y",y).attr("width",fig.pw).attr("height",fig.stripH)
          .attr("fill","#f1f1f1").attr("stroke",FRAME_COLOR).attr("stroke-width",1);
        g.append("text").attr("x",x+fig.pw/2).attr("y",y+13).attr("text-anchor","middle")
          .attr("font-size",12.5).text(lab);
      });
    });
  });
  const midX = fig.left + 2*fig.pw;
  g.append("text").attr("x",midX).attr("y",fig.xTitleY).attr("text-anchor","middle").attr("font-size",13).text(X_TITLE);
  g.append("text").attr("x",15.5).attr("y",fig.yTitleY).attr("text-anchor","middle").attr("font-size",13)
    .attr("transform",`rotate(-90,15.5,${fig.yTitleY})`).text(Y_TITLE);

  const xd = X_DOMAIN, yd = fig.yDomain;
  const gx = [1,2,3].map(k => xd[0] + k*(xd[1]-xd[0])/4);
  const gy = [1,2,3].map(k => yd[0] + k*(yd[1]-yd[0])/4);

  fig.panels.forEach((rowPanels, r)=>{
    rowPanels.forEach((series, c)=>{
      const rows = [];
      for (const [s, x0, step, ys] of series) ys.forEach((y,i)=>rows.push({s, x: x0 + i*step, y}));
      const marks = [
        Plot.ruleX(gx, {stroke: GRID_COLOR, strokeWidth: 1}),
        Plot.ruleY(gy, {stroke: GRID_COLOR, strokeWidth: 1}),
        Plot.dot(rows, {x:"x", y:"y", r:3.1, stroke: DOT_COLOR, strokeWidth: 0.9, fill:"none"}),
        ...series.map(([s]) => Plot.line(rows.filter(d=>d.s===s), {x:"x", y:"y", stroke: colorOf(s), strokeWidth: 1})),
        Plot.frame({stroke: FRAME_COLOR, strokeWidth: 1})
      ];
      if (c === 0) marks.push(Plot.axisY(fig.yTicks, {anchor:"left", tickSize:6, tickPadding:5, label:null, tickFormat: r===1 ? withLabel : noLabel}));
      if (c === 3) marks.push(Plot.axisY(fig.yTicks, {anchor:"right", tickSize:6, tickPadding:5, label:null, tickFormat: r===0 ? withLabel : noLabel}));
      if (r === 1) marks.push(Plot.axisX(X_TICKS, {anchor:"bottom", tickSize:6, tickPadding:5, label:null, tickFormat: c%2===0 ? withLabel : noLabel}));
      const chart = Plot.plot({
        width: fig.pw + ML + MR, height: fig.ph + MT + MB,
        marginLeft: ML, marginRight: MR, marginTop: MT, marginBottom: MB,
        x: {domain: xd, axis: null}, y: {domain: yd, axis: null},
        style: {background:"none", overflow:"visible", maxWidth:"none", fontFamily: FONT, fontSize:"10px", color:"#000"},
        marks
      });
      place(chart, fig.left + c*fig.pw - ML, fig.rowsY[r] - MT);
    });
  });

  // top axes above the upper strips
  PHASES.forEach((p,c)=>{
    const TMT = 26;
    const chart = Plot.plot({
      width: fig.pw + ML + MR, height: TMT + 4,
      marginLeft: ML, marginRight: MR, marginTop: TMT, marginBottom: 4,
      x: {domain: xd, axis: null},
      style: {background:"none", overflow:"visible", maxWidth:"none", fontFamily: FONT, fontSize:"10px", color:"#000"},
      marks: [Plot.axisX(X_TICKS, {anchor:"top", tickSize:6, tickPadding:5, label:null, tickFormat: c%2===1 ? withLabel : noLabel})]
    });
    place(chart, fig.left + c*fig.pw - ML, fig.rowsY[0] - 2*fig.stripH - TMT);
  });
}

FIGS.forEach(drawFigure);
</script></body></html>
